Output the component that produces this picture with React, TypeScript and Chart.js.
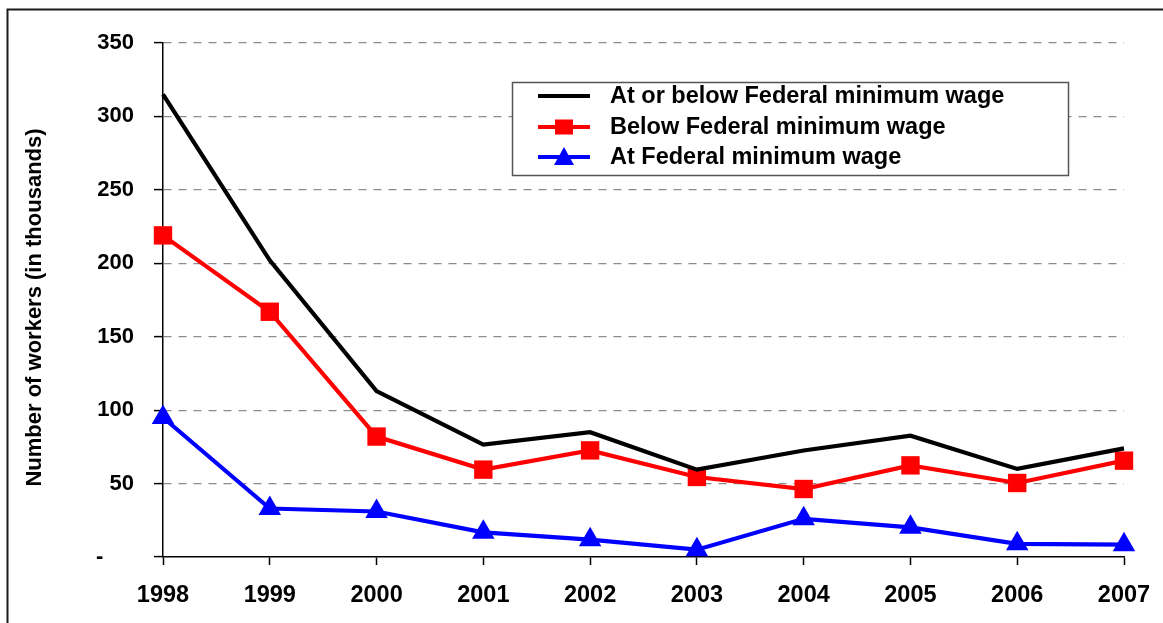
import React, { useEffect, useRef } from 'react';
import { Chart, registerables } from 'chart.js';

Chart.register(...registerables);

const years = ['1998', '1999', '2000', '2001', '2002', '2003', '2004', '2005', '2006', '2007'];
const atOrBelow = [315, 202, 113, 76.5, 85, 59.5, 72.5, 82.6, 60, 74];
const below = [219, 167, 82, 59.5, 72.6, 54.5, 46.3, 62.4, 50.4, 65.6];
const atMinimum = [95, 33, 31, 16.8, 11.8, 5, 26, 20.2, 9, 8.4];

const seriesLabels = ['At or below Federal minimum wage', 'Below Federal minimum wage', 'At Federal minimum wage'];
const seriesColors = ['#000000', '#FF0000', '#0000FF'];
const seriesMarkers = [false, 'rect', 'triangle'];

const yTickValues = [0, 50, 100, 150, 200, 250, 300, 350];
const yTickLabels = ['-     ', '50', '100', '150', '200', '250', '300', '350'];
const yTitle = 'Number of workers (in thousands)';

const FONT = '"Liberation Sans", Arial, sans-serif';

const framePlugin = {
  id: 'frame',
  afterDraw(chart: any) {
    const ctx = chart.ctx;
    ctx.save();
    ctx.strokeStyle = '#1a1a1a';
    ctx.lineWidth = 2;
    ctx.strokeRect(7.5, 9.5, 1300, 800);
    // y-axis title
    ctx.translate(35, 307.5);
    ctx.rotate(-Math.PI / 2);
    ctx.fillStyle = '#000000';
    ctx.font = `bold 22px ${FONT}`;
    ctx.textAlign = 'center';
    ctx.textBaseline = 'middle';
    ctx.fillText(yTitle, 0, 0);
    ctx.restore();
  },
};

const legendPlugin = {
  id: 'customLegend',
  afterDatasetsDraw(chart: any) {
    const ctx = chart.ctx;
    const bx = 512, by = 82, bw = 556, bh = 93;
    ctx.save();
    ctx.fillStyle = '#ffffff';
    ctx.fillRect(bx, by, bw, bh);
    ctx.strokeStyle = '#555555';
    ctx.lineWidth = 1.5;
    ctx.strokeRect(bx + 0.5, by + 0.5, bw, bh);
    const rows = [96, 127, 157];
    chart.data.datasets.forEach((ds: any, i: number) => {
      const y = rows[i];
      ctx.strokeStyle = ds.borderColor;
      ctx.lineWidth = 4;
      ctx.beginPath();
      ctx.moveTo(538, y);
      ctx.lineTo(590, y);
      ctx.stroke();
      ctx.fillStyle = ds.borderColor;
      if (ds.pointStyle === 'rect') {
        ctx.fillRect(564 - 9, y - 7.5, 18, 15);
      } else if (ds.pointStyle === 'triangle') {
        ctx.beginPath();
        ctx.moveTo(564, y - 10);
        ctx.lineTo(574, y + 8);
        ctx.lineTo(554, y + 8);
        ctx.closePath();
        ctx.fill();
      }
      ctx.fillStyle = '#000000';
      ctx.font = `bold 23.5px ${FONT}`;
      ctx.textBaseline = 'middle';
      ctx.textAlign = 'left';
      ctx.fillText(ds.label, 610, y + 1);
    });
    ctx.restore();
  },
};

export default function App() {
  const ref = useRef<HTMLCanvasElement>(null);

  useEffect(() => {
    if (!ref.current) return;
    const datasets = [atOrBelow, below, atMinimum].map((data, i) => ({
      label: seriesLabels[i],
      data,
      borderColor: seriesColors[i],
      backgroundColor: seriesColors[i],
      borderWidth: 4.2,
      tension: 0,
      pointStyle: seriesMarkers[i] || 'circle',
      pointRadius: seriesMarkers[i] ? 13 : 0,
      pointHoverRadius: seriesMarkers[i] ? 13 : 0,
      pointBorderWidth: 0,
      clip: false as any,
    }));
    const chart = new Chart(ref.current, {
      type: 'line',
      data: { labels: years, datasets },
      plugins: [legendPlugin, framePlugin],
      options: {
        animation: false,
        responsive: false,
        maintainAspectRatio: false,
        events: [],
        layout: { padding: { left: 20, right: 39, top: 43, bottom: 0 } },
        plugins: {
          legend: { display: false },
          tooltip: { enabled: false },
          title: { display: false },
        },
        scales: {
          x: {
            offset: false,
            grid: {
              display: true,
              drawOnChartArea: false,
              drawTicks: true,
              tickLength: 8,
              tickColor: '#000000',
              tickWidth: 1.5,
            },
            border: { display: true, color: '#000000', width: 1.5 },
            ticks: {
              color: '#000000',
              font: { family: FONT, size: 23.5, weight: 'bold' },
              padding: 16,
              maxRotation: 0,
              autoSkip: false,
            },
            afterFit(scale: any) {
              scale.height = 66;
              scale.paddingLeft = 0;
              scale.paddingRight = 0;
            },
          },
          y: {
            min: 0,
            max: 350,
            afterBuildTicks(scale: any) {
              scale.ticks = yTickValues.map((v) => ({ value: v }));
            },
            grid: {
              display: true,
              drawOnChartArea: true,
              color: (c: any) => (c.tick && c.tick.value === 0 ? 'rgba(0,0,0,0)' : '#8c8c8c'),
              lineWidth: 1.2,
              tickLength: 9,
              tickColor: '#000000',
              tickWidth: 1.5,
              tickBorderDash: [],
            },
            border: { display: true, color: '#000000', width: 1.5, dash: [8, 7] as any },
            ticks: {
              color: '#000000',
              font: { family: FONT, size: 22, weight: 'bold' },
              padding: 20,
              callback: (value: any) => {
                const idx = yTickValues.indexOf(Number(value));
                return idx >= 0 ? yTickLabels[idx] : '';
              },
            },
            title: { display: false },
            afterFit(scale: any) {
              scale.width = 143;
              scale.paddingTop = 0;
              scale.paddingBottom = 0;
            },
          },
        },
      },
    });
    return () => chart.destroy();
  }, []);

  return (
    <div style={{ position: 'fixed', left: 0, top: 0, width: 1163, height: 623, background: '#ffffff' }}>
      <canvas ref={ref} width={1163} height={623} style={{ width: 1163, height: 623, display: 'block' }} />
    </div>
  );
}
